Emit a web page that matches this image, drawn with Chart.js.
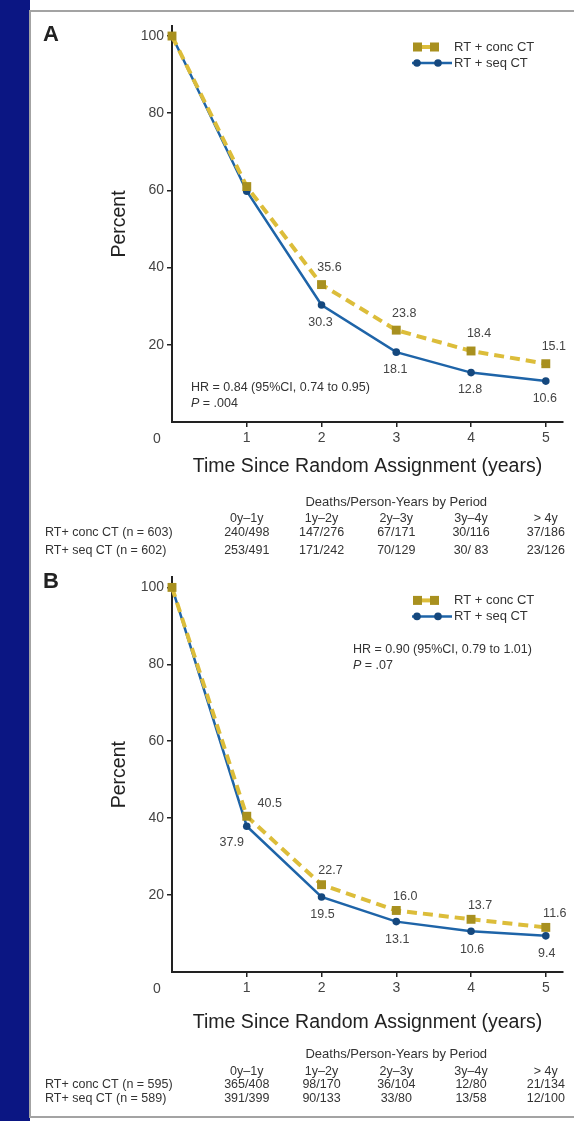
<!DOCTYPE html>
<html>
<head>
<meta charset="utf-8">
<script src="https://cdn.jsdelivr.net/npm/chart.js@4.4.1/dist/chart.umd.min.js"></script>
<style>
  html, body { margin: 0; padding: 0; background: #fff; }
  body { width: 574px; height: 1121px; position: relative; overflow: hidden; }
  #band { position: absolute; left: 0; top: 0; width: 30px; height: 1121px; background: #0b1683; }
  #panel { position: absolute; left: 29px; top: 10px; width: 600px; height: 1108px; border: 2px solid #a3a3a3; box-sizing: border-box; background: #fff; }
  canvas { position: absolute; left: 30px; }
  #chartA { top: 11px; }
  #chartB { top: 566px; }
</style>
</head>
<body>
<div id="band"></div>
<div id="panel"></div>
<canvas id="chartA" width="544" height="555"></canvas>
<canvas id="chartB" width="544" height="551"></canvas>
<script>
// values
const years = [0, 1, 2, 3, 4, 5];
const concA = [100, 61.0, 35.6, 23.8, 18.4, 15.1];
const seqA = [100, 59.8, 30.3, 18.1, 12.8, 10.6];
const concB = [100, 40.5, 22.7, 16.0, 13.7, 11.6];
const seqB = [100, 37.9, 19.5, 13.1, 10.6, 9.4];

const seriesNames = ["RT + conc CT", "RT + seq CT"];
const xTicks = [1, 2, 3, 4, 5];
const yTicks = [20, 40, 60, 80, 100];

const tableTitle = "Deaths/Person-Years by Period";
const periods = ["0y\u20131y", "1y\u20132y", "2y\u20133y", "3y\u20134y", "> 4y"];
const rowLabelsA = ["RT+ conc CT (n = 603)", "RT+ seq CT (n = 602)"];
const concDeathsA = ["240/498", "147/276", "67/171", "30/116", "37/186"];
const seqDeathsA = ["253/491", "171/242", "70/129", "30/ 83", "23/126"];
const rowLabelsB = ["RT+ conc CT (n = 595)", "RT+ seq CT (n = 589)"];
const concDeathsB = ["365/408", "98/170", "36/104", "12/80", "21/134"];
const seqDeathsB = ["391/399", "90/133", "33/80", "13/58", "12/100"];

const hrA = ["HR = 0.84 (95%CI, 0.74 to 0.95)", "P = .004"];
const hrB = ["HR = 0.90 (95%CI, 0.79 to 1.01)", "P = .07"];

const FONT = '"Liberation Sans", Arial, sans-serif';
const GOLD_LINE = "#dcbd3a";
const GOLD_MARK = "#a8901f";
const BLUE_LINE = "#1e64a8";
const BLUE_MARK = "#15487e";

// draws panel letter, value labels, legend, HR note and the table under the axis
function makeDecor(cfg) {
  return {
    id: "decor",
    afterDraw(chart) {
      const { ctx, chartArea: a, scales: { x } } = chart;
      ctx.save();
      ctx.textBaseline = "middle";

      // panel letter
      ctx.fillStyle = "#222";
      ctx.font = "bold 22px " + FONT;
      ctx.textAlign = "left";
      ctx.fillText(cfg.letter, 13, cfg.letterY);

      // shared origin label
      ctx.fillStyle = "#444";
      ctx.font = "14px " + FONT;
      ctx.textAlign = "center";
      ctx.fillText("0", a.left - 15, a.bottom + 17);

      // point labels
      ctx.font = "12.5px " + FONT;
      chart.data.datasets.forEach((ds, i) => {
        const meta = chart.getDatasetMeta(i);
        meta.data.forEach((pt, j) => {
          if (j < cfg.labelFrom) return;
          const off = j === 1 ? cfg.firstOffsets[i] : cfg.offsets[i];
          ctx.fillText(ds.data[j].y.toFixed(1), pt.x + off[0], pt.y + off[1]);
        });
      });

      // legend
      ctx.font = "13px " + FONT;
      ctx.textAlign = "left";
      const ly0 = a.top + cfg.legendY[0];
      const ly1 = a.top + cfg.legendY[1];
      ctx.strokeStyle = GOLD_LINE;
      ctx.lineWidth = 4;
      ctx.beginPath();
      ctx.moveTo(a.right - 145, ly0);
      ctx.lineTo(a.right - 128, ly0);
      ctx.stroke();
      ctx.fillStyle = GOLD_MARK;
      ctx.fillRect(a.right - 150, ly0 - 4.5, 9, 9);
      ctx.fillRect(a.right - 133, ly0 - 4.5, 9, 9);
      ctx.strokeStyle = BLUE_LINE;
      ctx.lineWidth = 2.5;
      ctx.beginPath();
      ctx.moveTo(a.right - 151, ly1);
      ctx.lineTo(a.right - 111, ly1);
      ctx.stroke();
      ctx.fillStyle = BLUE_MARK;
      [a.right - 146, a.right - 125].forEach(cx => {
        ctx.beginPath();
        ctx.arc(cx, ly1, 3.8, 0, Math.PI * 2);
        ctx.fill();
      });
      ctx.fillStyle = "#333";
      ctx.fillText(chart.data.datasets[0].label, a.right - 109, ly0);
      ctx.fillText(chart.data.datasets[1].label, a.right - 109, ly1);

      // hazard ratio note
      ctx.font = "12.5px " + FONT;
      const hx = cfg.hrFromRight ? a.right - cfg.hrX : a.left + cfg.hrX;
      const hy = cfg.hrFromTop ? a.top + cfg.hrY : a.bottom + cfg.hrY;
      ctx.fillText(cfg.hr[0], hx, hy);
      ctx.font = "italic 12.5px " + FONT;
      ctx.fillText(cfg.hr[1][0], hx, hy + 16);
      const pw = ctx.measureText(cfg.hr[1][0]).width;
      ctx.font = "12.5px " + FONT;
      ctx.fillText(cfg.hr[1].slice(1), hx + pw, hy + 16);

      // deaths / person-years table
      const base = a.bottom;
      ctx.fillStyle = "#333";
      ctx.textAlign = "center";
      ctx.font = "13px " + FONT;
      ctx.fillText(tableTitle, x.getPixelForValue(3), base + cfg.tableY[0]);
      ctx.font = "12.5px " + FONT;
      periods.forEach((p, k) => {
        const cx = x.getPixelForValue(xTicks[k]);
        ctx.fillText(p, cx, base + cfg.tableY[1]);
        ctx.fillText(cfg.concDeaths[k], cx, base + cfg.tableY[2]);
        ctx.fillText(cfg.seqDeaths[k], cx, base + cfg.tableY[3]);
      });
      ctx.textAlign = "left";
      ctx.fillText(cfg.rowLabels[0], 15, base + cfg.tableY[2]);
      ctx.fillText(cfg.rowLabels[1], 15, base + cfg.tableY[3]);

      ctx.restore();
    }
  };
}

function makeChart(id, conc, seq, cfg) {
  return new Chart(document.getElementById(id), {
    type: "line",
    data: {
      datasets: [
        {
          label: seriesNames[0],
          data: years.map((yr, i) => ({ x: yr, y: conc[i] })),
          borderColor: GOLD_LINE,
          borderWidth: 4,
          borderDash: [10, 6],
          pointStyle: "rect",
          pointRadius: 6.3,
          pointBackgroundColor: GOLD_MARK,
          pointBorderWidth: 0,
          clip: false
        },
        {
          label: seriesNames[1],
          data: years.map((yr, i) => ({ x: yr, y: seq[i] })),
          borderColor: BLUE_LINE,
          borderWidth: 2.5,
          pointStyle: "circle",
          pointRadius: 3.8,
          pointBackgroundColor: BLUE_MARK,
          pointBorderWidth: 0,
          clip: false
        }
      ]
    },
    options: {
      responsive: false,
      animation: false,
      devicePixelRatio: 1,
      layout: { padding: { left: 0, top: cfg.padTop, right: 11, bottom: cfg.padBottom } },
      plugins: { legend: { display: false }, tooltip: { enabled: false } },
      scales: {
        x: {
          type: "linear",
          min: 0,
          max: 5.23,
          afterBuildTicks: s => { s.ticks = xTicks.map(v => ({ value: v })); },
          afterFit: s => { s.height = cfg.xHeight; },
          grid: { drawOnChartArea: false, tickLength: 5, color: "#222", lineWidth: 1.5 },
          border: { color: "#222", width: 2 },
          ticks: { color: "#444", padding: 3, maxRotation: 0, font: { family: FONT, size: 14 } },
          title: {
            display: true,
            text: "Time Since Random Assignment (years)",
            color: "#222",
            font: { family: FONT, size: 19.5 },
            padding: { top: 0, bottom: cfg.xTitlePad }
          }
        },
        y: {
          min: 0,
          max: 102.6,
          afterBuildTicks: s => { s.ticks = yTicks.map(v => ({ value: v })); },
          afterFit: s => { s.width = 142; },
          grid: { drawOnChartArea: false, tickLength: 5, color: "#222", lineWidth: 1.5 },
          border: { color: "#222", width: 2 },
          ticks: { color: "#444", padding: 3, font: { family: FONT, size: 14 } },
          title: {
            display: true,
            text: "Percent",
            color: "#222",
            font: { family: FONT, size: 19.5 },
            padding: { top: 78, bottom: 0 }
          }
        }
      }
    },
    plugins: [makeDecor(cfg)]
  });
}

makeChart("chartA", concA, seqA, {
  letter: "A", letterY: 24,
  padTop: 15, padBottom: 84, xHeight: 60, xTitlePad: 4,
  labelFrom: 2,
  offsets: [[8, -17], [-1, 17]],
  firstOffsets: [[8, -17], [-1, 17]],
  legendY: [21, 37],
  hr: hrA, hrFromRight: false, hrFromTop: false, hrX: 19, hrY: -34,
  tableY: [80, 97, 111, 129],
  rowLabels: rowLabelsA, concDeaths: concDeathsA, seqDeaths: seqDeathsA
});

makeChart("chartB", concB, seqB, {
  letter: "B", letterY: 16,
  padTop: 11, padBottom: 81, xHeight: 64, xTitlePad: 2,
  labelFrom: 1,
  offsets: [[9, -14], [1, 18]],
  firstOffsets: [[23, -13], [-15, 16]],
  legendY: [23, 39],
  hr: hrB, hrFromRight: true, hrFromTop: true, hrX: 210, hrY: 72,
  tableY: [82, 100, 113, 127],
  rowLabels: rowLabelsB, concDeaths: concDeathsB, seqDeaths: seqDeathsB
});
</script>
</body>
</html>
